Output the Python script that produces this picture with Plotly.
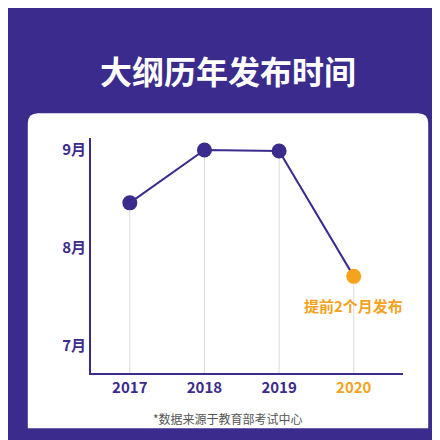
import plotly.graph_objects as go

years = ["2017", "2018", "2019", "2020"]
months = [8.46, 9.0, 8.99, 7.71]
ytick_vals = [7, 8, 9]
ytick_text = ["7月", "8月", "9月"]

PURPLE = "#3b2b8c"
ORANGE = "#f5a21c"
xs = list(range(len(years)))
ymin = 6.724

fig = go.Figure()
fig.add_trace(go.Scatter(
    x=xs, y=months, mode="markers",
    marker=dict(size=0.1, color="rgba(0,0,0,0)"),
    error_y=dict(type="data", symmetric=False, array=[0]*4,
                 arrayminus=[m - ymin for m in months],
                 color="#dcdcdc", thickness=1, width=0),
    hoverinfo="skip"))
fig.add_trace(go.Scatter(x=xs, y=months, mode="lines",
                         line=dict(color=PURPLE, width=2), hoverinfo="skip"))
fig.add_trace(go.Scatter(
    x=xs, y=months, mode="markers",
    marker=dict(size=15, color=[PURPLE, PURPLE, PURPLE, ORANGE])))

fig.add_annotation(x=xs[3], y=months[3], yshift=-29, text="<b>提前2个月发布</b>",
                   showarrow=False, font=dict(color=ORANGE, size=15,
                   family="Noto Sans CJK SC"))

fig.add_shape(type="path", xref="paper", yref="paper", layer="below",
              path="M 0.068,0.761 L 0.932,0.761 Q 0.955,0.761 0.955,0.738 L 0.955,0.045 L 0.045,0.045 L 0.045,0.738 Q 0.045,0.761 0.068,0.761 Z",
              fillcolor="white", line=dict(width=0))

fig.add_annotation(xref="paper", yref="paper", x=0.5, y=1 - 62/440, yanchor="middle",
                   text="<b>大纲历年发布时间</b>", showarrow=False,
                   font=dict(color="white", size=32, family="Noto Sans CJK SC"))
fig.add_annotation(xref="paper", yref="paper", x=0.5, y=1 - 410/440, yanchor="middle",
                   text="*数据来源于教育部考试中心", showarrow=False,
                   font=dict(color="#555555", size=12, family="Noto Sans CJK SC"))

ticktext = [f"<b>{y}</b>" for y in years[:3]] + [f"<b><span style='color:{ORANGE}'>{years[3]}</span></b>"]
fig.update_layout(
    width=440, height=440, margin=dict(l=0, r=0, t=0, b=0),
    paper_bgcolor=PURPLE, plot_bgcolor="white", showlegend=False,
    font=dict(family="Noto Sans CJK SC"),
    xaxis=dict(domain=[83/440, 395/440], range=[-0.52, 3.66],
               tickvals=xs, ticktext=ticktext, showgrid=False, zeroline=False,
               showline=True, linecolor=PURPLE, linewidth=2, ticks="",
               tickfont=dict(size=15, color=PURPLE)),
    yaxis=dict(domain=[1 - 365/440, 1 - 130/440], range=[ymin, 9.122],
               tickvals=ytick_vals, ticktext=[f"<b>{t}</b>" for t in ytick_text],
               showgrid=False, zeroline=False, showline=True, linecolor=PURPLE,
               linewidth=2, ticks="", tickfont=dict(size=15, color=PURPLE)),
)
fig.write_html("out.html")
